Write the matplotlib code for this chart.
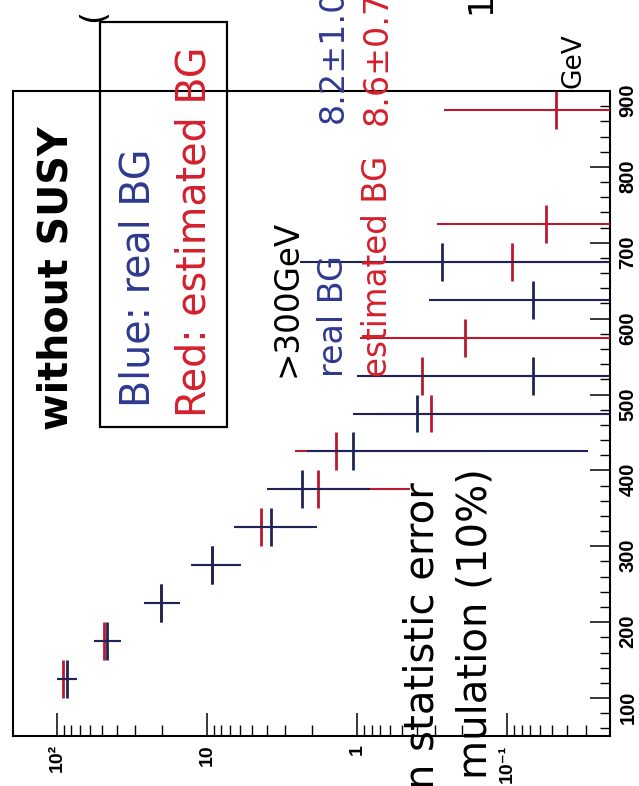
import numpy as np
import matplotlib
matplotlib.use("Agg")
import matplotlib.pyplot as plt
from matplotlib.ticker import FixedLocator, NullFormatter, LogLocator, MultipleLocator
from matplotlib.patches import Rectangle

# ---- data: bin centres in GeV (50 GeV wide bins) ----
gev_centers = [125, 175, 225, 275, 325, 375, 425, 475, 525, 575, 625, 675, 725, 775, 825, 875]
bin_half_width = 25
nan = np.nan

# real background (blue): value, upper end and lower end of its error bar
real_bg = [86.1, 46.2, 20.3, 9.2, 3.76, 2.34, 1.06, 0.40, 0.067, nan, 0.067, 0.27, nan, nan, nan, nan]
real_hi = [100.5, 56.6, 26.2, 12.8, 6.6, 3.96, 2.14, 1.06, 1.0, nan, 0.33, 2.4, nan, nan, nan, nan]
real_lo = [73.9, 37.6, 15.1, 5.96, 1.86, 0.82, 0.029, 0.0, 0.0, nan, 0.0, 0.0, nan, nan, nan, nan]

# estimated background (red)
est_bg = [90.8, 48.6, 20.3, 9.2, 4.38, 1.83, 1.37, 0.32, 0.37, 0.19, nan, 0.093, 0.055, nan, nan, 0.047]
est_hi = [100.0, 56.0, 26.0, 12.6, 6.4, 3.3, 2.59, 0.75, 0.85, 0.955, nan, 1.0, 0.294, nan, nan, 0.265]
est_lo = [75.0, 38.5, 15.4, 6.1, 2.0, 0.44, 0.15, 0.0, 0.0, 0.0, nan, 0.0, 0.0, nan, nan, 0.0]

count_ticks = [100, 10, 1, 0.1]
count_labels = ["10\u00b2", "10", "1", "10\u207b\u00b9"]
gev_ticks = [100, 200, 300, 400, 500, 600, 700, 800, 900]

BLUE_LINE = "#1f2456"
RED_LINE = "#bb1a2e"
BLUE_TEXT = "#2f3a8f"
RED_TEXT = "#d4202c"

W, H = 639, 786
fig = plt.figure(figsize=(W / 100, H / 100), dpi=100)
fig.patch.set_facecolor("white")


def fx(x):
    return x / W


def fy(y):
    return 1 - y / H


# the histogram panel is shown turned on its side: counts run along the
# horizontal (log, decreasing to the right), GeV runs upward
ax = fig.add_axes([fx(12.7), fy(736), fx(610) - fx(12.7), fy(91) - fy(736)])
ax.set_xscale("log")
ax.set_xlim(197, 0.0206)
ax.set_ylim(50, 900)


def draw_series(vals, hi, lo, color, z):
    v = np.asarray(vals, float)
    h = np.asarray(hi, float)
    l = np.asarray(lo, float)
    g = np.asarray(gev_centers, float)
    m = ~np.isnan(v)
    eb = ax.errorbar(v[m], g[m], xerr=[v[m] - l[m], h[m] - v[m]], yerr=bin_half_width,
                     fmt="none", ecolor=color, capsize=0, zorder=z)
    xcol, ycol = eb[2]
    xcol.set_linewidth(1.5)
    ycol.set_linewidth(2.0)


draw_series(est_bg, est_hi, est_lo, RED_LINE, 3)
draw_series(real_bg, real_hi, real_lo, BLUE_LINE, 4)

# count axis (bottom)
ax.xaxis.set_major_locator(FixedLocator(count_ticks))
ax.set_xticklabels(count_labels)
ax.xaxis.set_minor_locator(LogLocator(base=10, subs=range(2, 10), numticks=20))
ax.xaxis.set_minor_formatter(NullFormatter())
ax.tick_params(axis="x", which="major", direction="in", length=16.5, width=1.1,
               top=False, bottom=True, labelrotation=90, pad=6, labelsize=14)
ax.tick_params(axis="x", which="minor", direction="in", length=8, width=1.0,
               top=False, bottom=True)

# GeV axis (right)
ax.yaxis.tick_right()
ax.yaxis.set_major_locator(FixedLocator(gev_ticks))
ax.yaxis.set_minor_locator(MultipleLocator(20))
ax.tick_params(axis="y", which="major", direction="in", length=14.4, width=1.1,
               left=False, right=True, labelrotation=90, pad=6, labelsize=14.5)
ax.tick_params(axis="y", which="minor", direction="in", length=7, width=1.0,
               left=False, right=True)
for lab in ax.get_xticklabels():
    lab.set_fontweight("bold")
    lab.set_family(["Liberation Sans", "DejaVu Sans"])
for lab in ax.get_yticklabels():
    lab.set_fontweight("bold")
    lab.set_family(["Liberation Sans Narrow", "Liberation Sans", "DejaVu Sans"])

for sp in ax.spines.values():
    sp.set_linewidth(1.5)
    sp.set_color("black")

# legend box
fig.add_artist(Rectangle((fx(100), fy(427)), fx(227) - fx(100), fy(22) - fy(427),
                         transform=fig.transFigure, fill=False, lw=1.6, color="black",
                         zorder=5))


def vtext(x, y, s, size, color="black", weight="normal", ha="left"):
    fig.text(fx(x), fy(y), s, rotation=90, rotation_mode="anchor", ha=ha,
             va="baseline", fontsize=size, color=color, fontweight=weight,
             family="DejaVu Sans", zorder=6)


vtext(67, 430, "without SUSY", 28.5, weight="bold")
vtext(150, 407, "Blue: real BG", 28.5, BLUE_TEXT)
vtext(205, 417, "Red: estimated BG", 28.5, RED_TEXT)

vtext(297, 377, ">300GeV", 23.5)
vtext(343, 377, "real BG", 24, BLUE_TEXT)
vtext(343, 123, "8.2\u00b11.0", 24, BLUE_TEXT)
vtext(387, 377, "estimated BG", 23.5, RED_TEXT)
vtext(387, 125, "8.6\u00b10.7", 24, RED_TEXT)

vtext(580, 88, "GeV", 19)
vtext(103, 22, "(", 24)
vtext(490, 14, "1", 24)

vtext(433, 482, "n statistic error", 29, ha="right")
vtext(487, 468, "mulation (10%)", 29, ha="right")

fig.savefig("out.png", dpi=100, facecolor="white")
